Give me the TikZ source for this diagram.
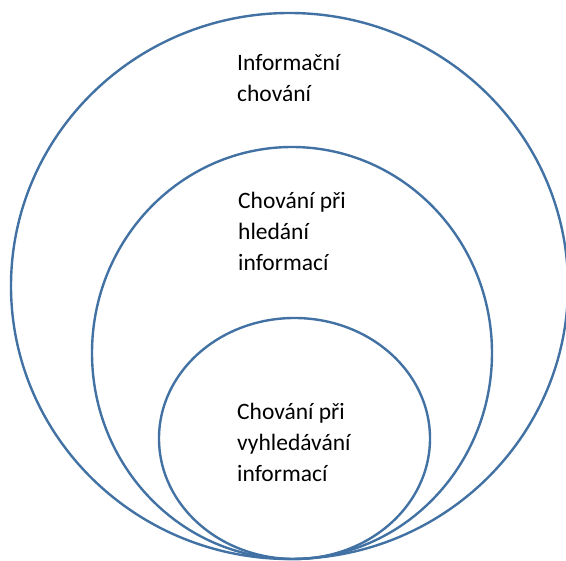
\documentclass[tikz,border=0pt]{standalone}
\usepackage{fontspec}
\setmainfont{Carlito}
\definecolor{ringblue}{RGB}{66,113,163}
\begin{document}
\begin{tikzpicture}[x=1pt,y=-1pt,
  ring/.style={draw=ringblue, line width=2.4pt},
  lbl/.style={anchor=base west, align=left, inner sep=0pt, font=\fontsize{23.5}{31}\selectfont, text=black}]
\useasboundingbox (0,0) rectangle (566,561);
\begin{scope}
\clip (0,0) rectangle (566,561);
\draw[ring] (289.5,286) ellipse [x radius=278.5, y radius=273];
\draw[ring] (292,353) ellipse [x radius=200, y radius=206];
\draw[ring] (294.5,438.5) ellipse [x radius=135.5, y radius=120.5];
\end{scope}
\node[lbl] (outer) at (237,102) {Informační\\chování};
\node[lbl] (middle) at (238,271) {Chování při\\hledání\\informací};
\node[lbl] (inner) at (237,482) {Chování při\\vyhledávání\\informací};
\end{tikzpicture}
\end{document}
